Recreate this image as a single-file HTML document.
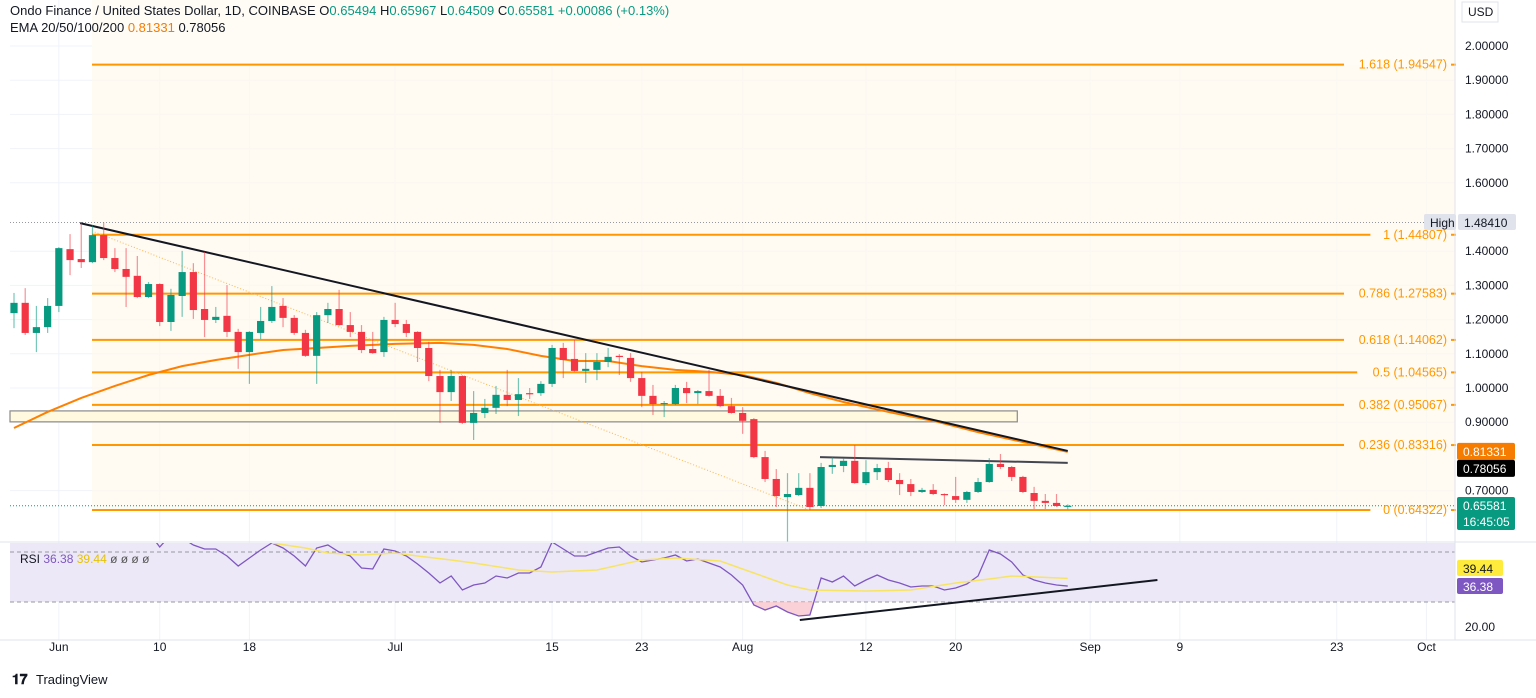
<!DOCTYPE html>
<html><head><meta charset="utf-8"><style>
html,body{margin:0;padding:0;background:#fff;width:1536px;height:698px;overflow:hidden;font-family:"Liberation Sans",sans-serif}
svg text{font-family:"Liberation Sans",sans-serif}
</style></head><body>
<svg id="chart" width="1536" height="698" xmlns="http://www.w3.org/2000/svg">
<rect x="0" y="0" width="1536" height="698" fill="#ffffff"/>
<g id="grid"></g><g id="fibbg"></g><g id="drawings"></g><g id="candles"></g><g id="rsi"></g><g id="axes"></g>
<text x="10" y="15" font-size="13" fill="#131722">Ondo Finance / United States Dollar, 1D, COINBASE <tspan fill="#131722">O</tspan><tspan fill="#089981">0.65494</tspan> <tspan fill="#131722">H</tspan><tspan fill="#089981">0.65967</tspan> <tspan fill="#131722">L</tspan><tspan fill="#089981">0.64509</tspan> <tspan fill="#131722">C</tspan><tspan fill="#089981">0.65581 +0.00086 (+0.13%)</tspan></text>
<text x="10" y="32" font-size="13" fill="#131722">EMA 20/50/100/200 <tspan fill="#f57c00">0.81331</tspan> <tspan fill="#131722">0.78056</tspan></text>
<text x="20" y="563" font-size="12" fill="#131722">RSI <tspan fill="#7e57c2">36.38</tspan> <tspan fill="#e6c300">39.44</tspan> <tspan fill="#555">ø ø ø ø</tspan></text>
<rect x="1462" y="2" width="36" height="20" fill="#fff" stroke="#e0e3eb"/>
<text x="1468" y="16" font-size="12" fill="#131722">USD</text>
<g><text x="12" y="684" font-size="14" font-weight="bold" fill="#131722">𝟏𝟕</text><text x="36" y="684" font-size="13" fill="#131722">TradingView</text></g>
</svg>
<script>
const opens=[1.219,1.249,1.161,1.178,1.240,1.406,1.377,1.368,1.447,1.380,1.348,1.328,1.266,1.304,1.193,1.269,1.339,1.231,1.199,1.211,1.164,1.105,1.161,1.196,1.240,1.205,1.161,1.094,1.213,1.231,1.184,1.164,1.114,1.105,1.199,1.187,1.164,1.117,1.035,0.988,1.035,0.898,0.927,0.942,0.980,0.965,0.985,0.985,1.012,1.117,1.085,1.050,1.053,1.076,1.094,1.088,1.029,0.977,0.953,0.953,1.000,0.985,0.991,0.977,0.947,0.927,0.909,0.798,0.734,0.681,0.687,0.708,0.655,0.769,0.772,0.787,0.722,0.754,0.766,0.731,0.719,0.696,0.702,0.690,0.684,0.673,0.696,0.725,0.778,0.769,0.740,0.693,0.670,0.664,0.6549];
const closes=[1.249,1.161,1.178,1.240,1.409,1.374,1.368,1.447,1.380,1.348,1.325,1.266,1.304,1.193,1.272,1.339,1.228,1.199,1.208,1.164,1.105,1.164,1.196,1.237,1.205,1.161,1.094,1.213,1.231,1.184,1.164,1.111,1.102,1.199,1.187,1.161,1.117,1.035,0.988,1.035,0.898,0.927,0.942,0.980,0.965,0.982,0.982,1.012,1.117,1.082,1.050,1.056,1.076,1.091,1.091,1.029,0.977,0.953,0.956,1.000,0.985,0.991,0.977,0.947,0.927,0.904,0.798,0.734,0.684,0.690,0.708,0.652,0.769,0.775,0.787,0.722,0.754,0.766,0.731,0.719,0.696,0.702,0.690,0.687,0.673,0.696,0.725,0.778,0.769,0.740,0.696,0.670,0.664,0.655,0.6558];
const highs=[1.278,1.292,1.240,1.263,1.412,1.450,1.482,1.477,1.484,1.409,1.409,1.386,1.310,1.306,1.290,1.401,1.365,1.398,1.237,1.301,1.173,1.166,1.237,1.298,1.263,1.213,1.170,1.222,1.249,1.287,1.222,1.184,1.164,1.208,1.249,1.199,1.166,1.135,1.053,1.053,1.037,0.991,0.968,1.006,1.053,1.029,1.000,1.020,1.126,1.132,1.140,1.102,1.102,1.117,1.099,1.102,1.047,1.009,0.962,1.009,1.018,0.994,1.053,0.997,0.971,0.944,0.912,0.816,0.763,0.751,0.751,0.751,0.781,0.798,0.795,0.833,0.789,0.778,0.784,0.751,0.734,0.708,0.719,0.692,0.740,0.699,0.737,0.795,0.807,0.772,0.743,0.711,0.690,0.690,0.6597];
const lows=[1.175,1.155,1.105,1.161,1.222,1.330,1.351,1.365,1.374,1.339,1.237,1.263,1.263,1.181,1.167,1.208,1.202,1.149,1.190,1.149,1.056,1.012,1.143,1.190,1.178,1.155,1.091,1.012,1.190,1.182,1.149,1.102,1.100,1.091,1.178,1.149,1.076,1.020,0.898,0.962,0.895,0.848,0.912,0.924,0.947,0.918,0.968,0.977,1.003,1.029,1.048,1.015,1.023,1.061,1.038,1.018,0.944,0.921,0.915,0.950,0.956,0.953,0.975,0.944,0.925,0.866,0.795,0.725,0.652,0.550,0.684,0.643,0.649,0.749,0.754,0.720,0.716,0.731,0.725,0.687,0.684,0.693,0.687,0.658,0.664,0.664,0.693,0.723,0.763,0.728,0.693,0.646,0.646,0.652,0.6451];
const emaIdx=[0,3,6,9,12,15,18,21,24,27,30,34,38,41,44,47,50,53,56,59,62,65,68,71,74,78,82,86,90,94];
const emaVals=[0.883,0.930,0.971,1.006,1.038,1.064,1.082,1.097,1.111,1.117,1.123,1.129,1.132,1.126,1.114,1.094,1.079,1.079,1.064,1.053,1.047,1.038,1.015,0.985,0.959,0.930,0.904,0.871,0.842,0.81331];
const rsiVals=[62,60,58,60,68,70,69,72,66,62,60,57,58,52,57,55.6,52.8,51.2,51.2,48.4,44.4,47.6,50.8,53.6,51.6,48.4,44.4,51.6,52.8,50.0,48.4,43.6,43.2,51.2,50.4,48.4,45.2,41.6,37.6,40.4,34.8,36.8,37.6,40.4,39.6,41.6,41.6,44.0,54.0,51.2,48.4,48.4,50.0,51.6,52.0,48.4,46.0,46.8,47.6,48.8,46.4,47.2,45.6,44.0,40.8,36.8,28.8,26.8,28.4,26.0,24.4,24.8,39.6,38.0,40.4,36.4,38.8,40.8,38.8,37.6,36.0,36.4,36.4,34.8,35.6,37.2,40.4,50.8,49.2,46.0,40.8,38.8,37.6,36.8,36.38];
const rsiMaIdx=[23,26,28,31,34,36,39,41,45,48,52,56,59,63,66,69,71,76,80,84,87,89,94];
const rsiMaVals=[53.6,51.6,49.6,48.8,49.6,48.4,46.8,45.6,42.8,42.0,42.8,46.8,47.6,46.4,41.6,36.8,34.8,34.4,34.8,37.6,39.2,40.4,39.44];
const fibRatios=["1.618","1","0.786","0.618","0.5","0.382","0.236","0"];
const fibPrices=[1.94547,1.44807,1.27583,1.14062,1.04565,0.95067,0.83316,0.64322];
const priceTicks=[2.0,1.9,1.8,1.7,1.6,1.4,1.3,1.2,1.1,1.0,0.9,0.7];
const dateLabels=["Jun","10","18","Jul","15","23","Aug","12","20","Sep","9","23","Oct"];
const dateIdx=[4,13,21,34,48,56,65,76,84,96,104,118,126];

const NS="http://www.w3.org/2000/svg";
const X=i=>14+i*11.21;
const Y=p=>730-p*342;
const R=v=>627-(v-20)*2.5;
function mk(parent,tag,attrs){const e=document.createElementNS(NS,tag);for(const k in attrs)e.setAttribute(k,attrs[k]);parent.appendChild(e);return e;}
const grid=document.getElementById('grid'),fibbg=document.getElementById('fibbg'),dr=document.getElementById('drawings'),cg=document.getElementById('candles'),rg=document.getElementById('rsi'),ax=document.getElementById('axes');

priceTicks.forEach(p=>{const l=mk(grid,'line',{x1:10,x2:1455,y1:Y(p),y2:Y(p),stroke:'#f0f3fa'});

});
dateIdx.forEach(i=>{const l=mk(grid,'line',{x1:X(i),x2:X(i),y1:0,y2:640,stroke:'#f0f3fa'});

});

const fb=mk(fibbg,'rect',{x:92,y:Y(fibPrices[0]),width:1363,height:Y(fibPrices[7])-Y(fibPrices[0]),fill:'#fff8ec',opacity:0.7});


const fbt=mk(fibbg,'rect',{x:92,y:0,width:1363,height:Y(fibPrices[0]),fill:'#fffcf6'});



const hl=mk(dr,'line',{x1:10,x2:1455,y1:Y(highs[8]),y2:Y(highs[8]),stroke:'#9598a1','stroke-dasharray':'1 2'});


const cl=mk(dr,'line',{x1:10,x2:1455,y1:Y(closes[94]),y2:Y(closes[94]),stroke:'#089981','stroke-dasharray':'1 2'});



const box=mk(dr,'rect',{x:10,y:Y(0.933),width:X(89.5)-10,height:Y(0.901)-Y(0.933),fill:'#fff9e0',stroke:'#8a8a8a','stroke-width':1.2});



fibPrices.forEach((p,k)=>{
 const txt=fibRatios[k]+' ('+p.toFixed(5)+')';
 const tw=txt.length*6.6;
 const l=mk(dr,'line',{x1:92,x2:1447-tw-4,y1:Y(p),y2:Y(p),stroke:'#ff9800','stroke-width':2});
 
 
 const d=mk(dr,'line',{x1:1451,x2:1456,y1:Y(p),y2:Y(p),stroke:'#ff9800','stroke-width':2});
 
 
 const t=mk(dr,'text',{x:1447,y:Y(p)+4,'text-anchor':'end','font-size':12.5,fill:'#ff9800'});t.textContent=txt;
 
 
});

const dd=mk(dr,'line',{x1:X(7.2),y1:Y(1.456),x2:X(71),y2:Y(0.643),stroke:'#ffb74d','stroke-dasharray':'1 2','stroke-width':1});



let pts=emaIdx.map((i,k)=>X(i)+','+Y(emaVals[k])).join(' ');
const em=mk(dr,'polyline',{points:pts,fill:'none',stroke:'#ff8000','stroke-width':2});



const tl=mk(dr,'line',{x1:X(5.9),y1:Y(1.482),x2:X(94),y2:Y(0.816),stroke:'#131722','stroke-width':2});


const hz=mk(dr,'line',{x1:X(71.9),y1:Y(0.798),x2:X(94),y2:Y(0.781),stroke:'#434651','stroke-width':2});



opens.forEach((o,i)=>{
 const c=closes[i],up=c>=o,col=up?'#089981':'#f23645',x=X(i);
 const w=mk(cg,'line',{x1:x,x2:x,y1:Y(highs[i]),y2:Y(lows[i]),stroke:col,'stroke-opacity':0.55,'stroke-width':1.2});
 
 
 const top=Y(Math.max(o,c)),bh=Math.max(1.2,Math.abs(Y(o)-Y(c)));
 const b=mk(cg,'rect',{x:x-3.6,y:top,width:7.2,height:bh,fill:col});
 
 
});

const sep=mk(rg,'line',{x1:0,x2:1536,y1:542,y2:542,stroke:'#e0e3eb'});


const band=mk(rg,'rect',{x:10,y:543,width:1445,height:R(30)-543,fill:'#ede8f7'});


[50,30].forEach(v=>{const l=mk(rg,'line',{x1:10,x2:1455,y1:R(v),y2:R(v),stroke:'#9598a1','stroke-dasharray':'4 3'});

});
const defs=mk(rg,'defs',{});
const cp=mk(defs,'clipPath',{id:'rsiclip'});mk(cp,'rect',{x:10,y:543,width:1445,height:100});
const cp2=mk(defs,'clipPath',{id:'osclip'});mk(cp2,'rect',{x:10,y:R(30),width:1445,height:60});
const rp=rsiVals.map((v,i)=>X(i)+','+R(v));
const os=mk(rg,'polygon',{points:X(0)+','+R(30)+' '+rp.join(' ')+' '+X(94)+','+R(30),fill:'#f8c6cc',opacity:0.8});
os.setAttribute('clip-path','url(#osclip)');


const rl=mk(rg,'polyline',{points:rp.join(' '),fill:'none',stroke:'#7e57c2','stroke-width':1.3,'clip-path':'url(#rsiclip)'});


const ml=mk(rg,'polyline',{points:rsiMaIdx.map((i,k)=>X(i)+','+R(rsiMaVals[k])).join(' '),fill:'none',stroke:'#f7e463','stroke-width':1.5,'clip-path':'url(#rsiclip)'});


const rt=mk(rg,'line',{x1:X(70.1),y1:R(22.8),x2:X(102),y2:R(38.8),stroke:'#131722','stroke-width':2});



const axl=mk(ax,'line',{x1:1455,x2:1455,y1:0,y2:640,stroke:'#e0e3eb'});


const bxl=mk(ax,'line',{x1:0,x2:1536,y1:640,y2:640,stroke:'#e0e3eb'});


priceTicks.forEach(p=>{const t=mk(ax,'text',{x:1465,y:Y(p)+4,'font-size':12,fill:'#131722'});t.textContent=p.toFixed(5);

});
dateLabels.forEach((s,k)=>{const t=mk(ax,'text',{x:X(dateIdx[k]),y:651,'font-size':12,fill:'#131722','text-anchor':'middle'});t.textContent=s;

});
function tag(name,y,h,bg,fg,lines,x0,w){const g=mk(ax,'g',{});


mk(g,'rect',{x:x0,y:y,width:w,height:h,fill:bg,rx:2});
lines.forEach((s,k)=>{const t=mk(g,'text',{x:x0+6,y:y+13+k*16,'font-size':12,fill:fg});t.textContent=s;});}
tag('high-tag-label',214,16,'#e0e3eb','#131722',['High'],1424,32);
tag('high-price-label',214,16,'#e0e3eb','#131722',['1.48410'],1458,58);
tag('ema-price-label',Y(0.8133)-9,17,'#f57c00','#fff',['0.81331'],1457,58);
tag('line-price-label',Y(0.8133)+8,17,'#000','#fff',['0.78056'],1457,58);
tag('last-price-label',497,33,'#089981','#fff',['0.65581','16:45:05'],1457,58);
tag('rsi-ma-value-label',560,16,'#ffeb3b','#131722',['39.44'],1457,46);
tag('rsi-value-label',578,16,'#7e57c2','#fff',['36.38'],1457,46);
const t20=mk(ax,'text',{x:1465,y:631,'font-size':12,fill:'#131722'});t20.textContent='20.00';


</script>
</body></html>
